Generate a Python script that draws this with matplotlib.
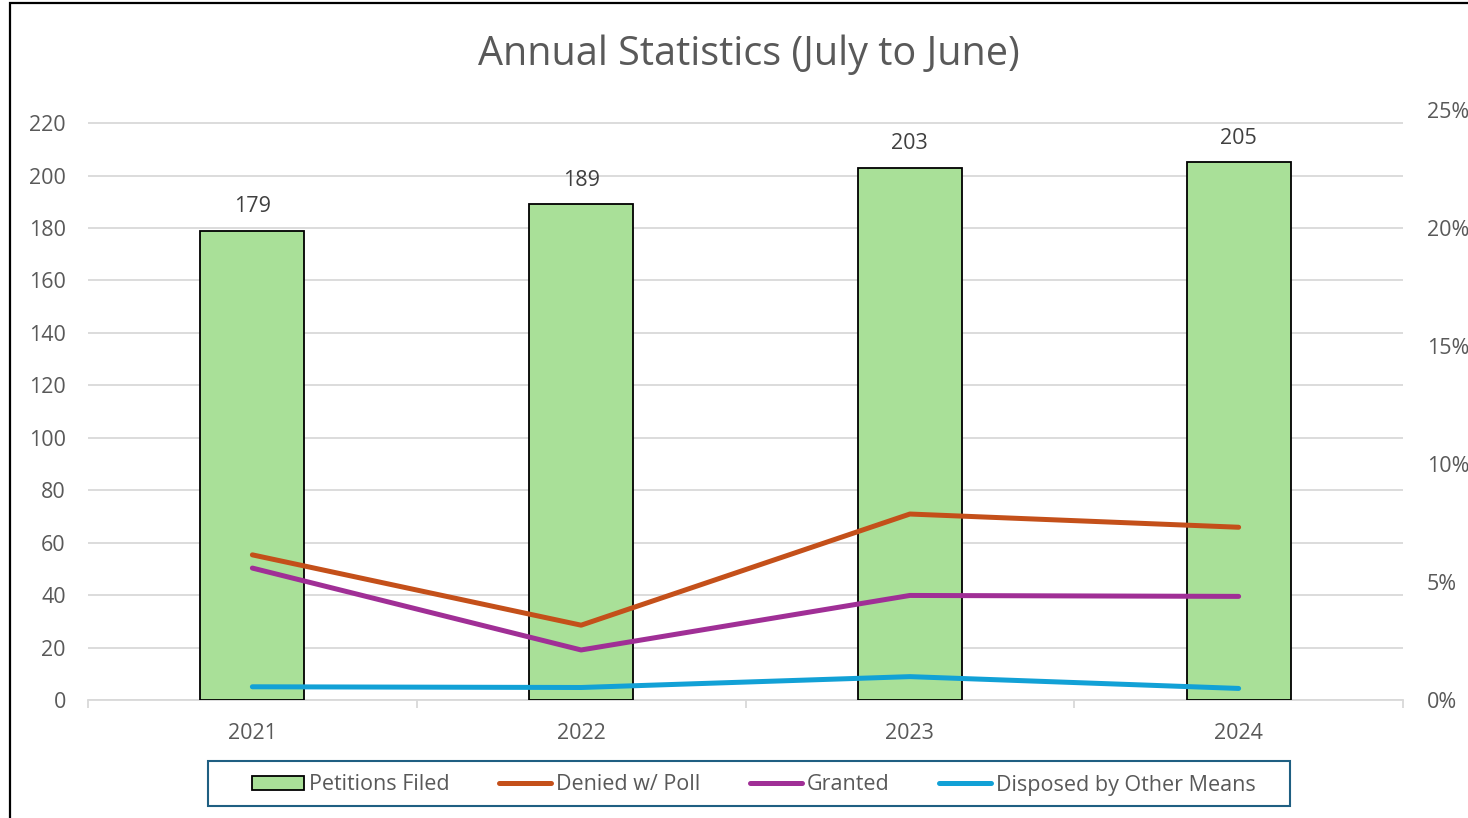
import matplotlib
matplotlib.use("Agg")
import matplotlib.pyplot as plt
from matplotlib.patches import Rectangle
import numpy as np

years = ["2021", "2022", "2023", "2024"]
petitions_filed = [179, 189, 203, 205]
denied_pct = [6.15, 3.17, 7.88, 7.32]
granted_pct = [5.59, 2.12, 4.43, 4.39]
disposed_pct = [0.56, 0.53, 0.99, 0.49]
left_ticks = list(range(0, 221, 20))
right_ticks = [0, 5, 10, 15, 20, 25]

W, H = 1468, 818
plt.rcParams['font.family'] = ['Open Sans', 'DejaVu Sans']
TXT = '#595959'
GRID = '#d9d9d9'
FS = 15.5

fig = plt.figure(figsize=(W / 100, H / 100), dpi=100)
fig.patch.set_facecolor('white')

# outer frame (left & top visible, others beyond canvas)
fig.patches.append(Rectangle((10 / W, -0.1), 1.2, 1 - 3.5 / H + 0.1, transform=fig.transFigure,
                             fill=False, edgecolor='black', linewidth=1.6, zorder=0))

ax = fig.add_axes([88 / W, 1 - 700 / H, (1403 - 88) / W, (700 - 110) / H])
ax2 = ax.twinx()

x = np.arange(len(years))
bars = ax.bar(x, petitions_filed, width=0.316, color='#A9E098', edgecolor='black',
              linewidth=1.3, zorder=3, label='Petitions Filed')
for xi, v in zip(x, petitions_filed):
    ax.annotate(str(v), (xi, v), xytext=(0, 10), textcoords='offset points',
                ha='center', va='bottom', fontsize=FS, color='#404040')

ax.set_xlim(-0.5, len(years) - 0.5)
ax.set_ylim(0, 225)
ax.set_yticks(left_ticks)
ax.yaxis.grid(True, color=GRID, linewidth=1.3, zorder=0)
ax.set_axisbelow(True)
for s in ['top', 'right', 'left']:
    ax.spines[s].set_visible(False)
ax.spines['bottom'].set_color(GRID)
ax.spines['bottom'].set_linewidth(1.3)
ax.tick_params(axis='y', length=0, pad=16, labelsize=FS, labelcolor=TXT)
ax.set_xticks(np.arange(-0.5, len(years), 1.0))
ax.set_xticklabels([])
ax.tick_params(axis='x', which='major', length=6, color=GRID, width=1.3)
ax.set_xticks(x, minor=True)
ax.set_xticklabels(years, minor=True)
ax.tick_params(axis='x', which='minor', length=0, pad=16.5, labelsize=FS, labelcolor=TXT)

lw = 3.6
l1, = ax2.plot(x, denied_pct, color='#C4501A', linewidth=lw, solid_capstyle='round', label='Denied w/ Poll', zorder=4)
l2, = ax2.plot(x, granted_pct, color='#A02F96', linewidth=lw, solid_capstyle='round', label='Granted', zorder=4)
l3, = ax2.plot(x, disposed_pct, color='#12A1D6', linewidth=lw, solid_capstyle='round', label='Disposed by Other Means', zorder=4)
ax2.set_ylim(0, 25)
ax2.set_yticks(right_ticks)
ax2.set_yticklabels([f"{t}%" for t in right_ticks])
ax2.tick_params(axis='y', length=0, pad=17, labelsize=FS, labelcolor=TXT)
for s in ax2.spines.values():
    s.set_visible(False)

fig.text(749 / W, 1 - 55 / H, 'Annual Statistics (July to June)', ha='center', va='center',
         fontsize=28.5, color=TXT)

handles = [bars, l1, l2, l3]
leg = fig.legend(handles, [h.get_label() for h in handles], loc='center',
                 bbox_to_anchor=(754 / W, 1 - 785 / H), ncol=4, frameon=False,
                 fontsize=FS, handlelength=2.4, handleheight=0.65, handletextpad=0.25,
                 columnspacing=2.3, borderpad=0.45)
for t in leg.get_texts():
    t.set_color(TXT)

# legend box
fig.patches.append(Rectangle((208 / W, 1 - 806 / H), (1290 - 208) / W, 45 / H,
                             transform=fig.transFigure, fill=False, edgecolor='#1F5F82',
                             linewidth=1.5, zorder=5))

fig.savefig('out.png', dpi=100, facecolor='white')
